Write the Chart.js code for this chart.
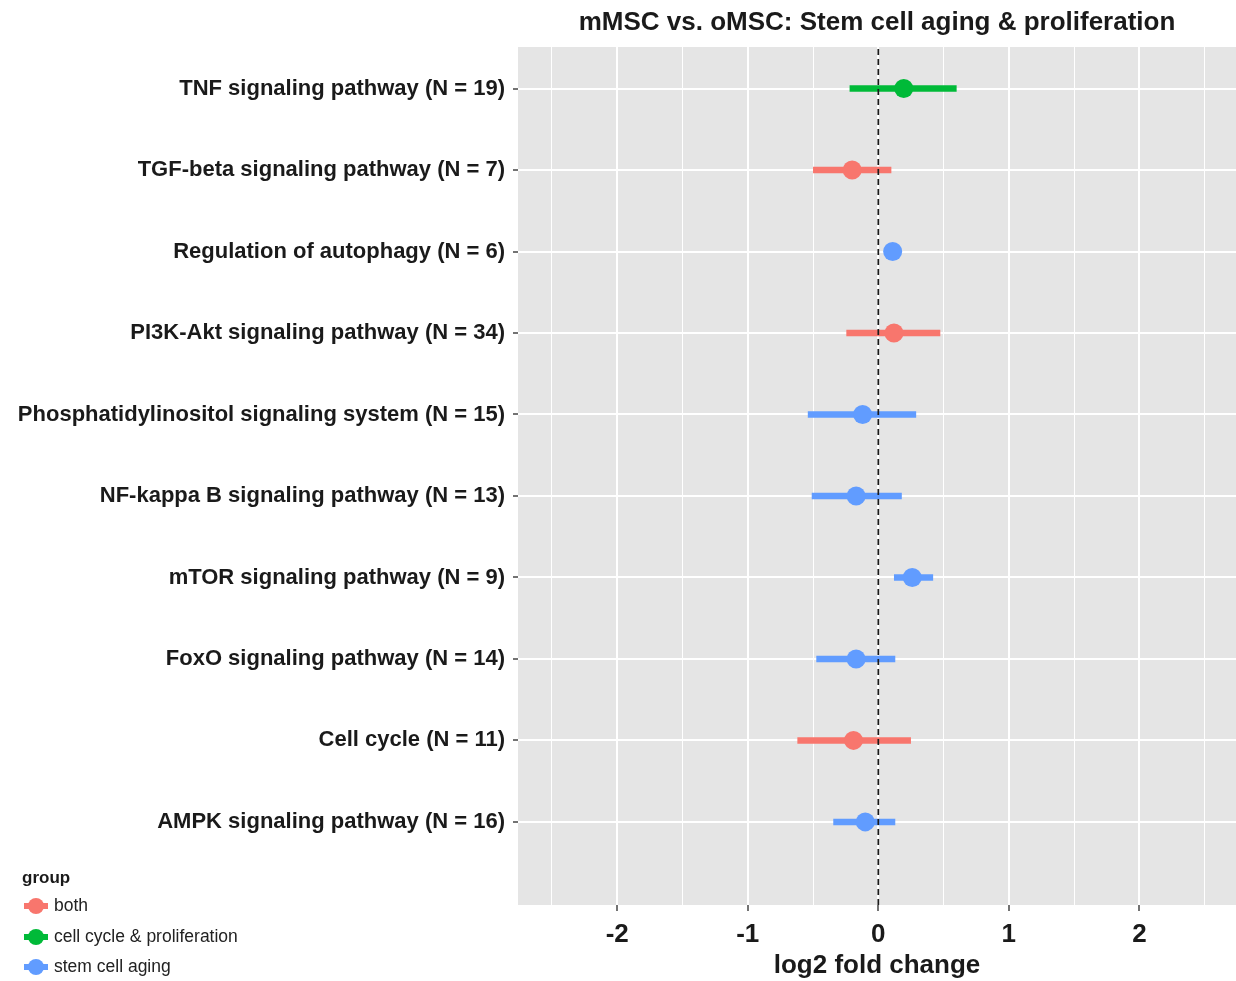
<!DOCTYPE html>
<html>
<head>
<meta charset="utf-8">
<script src="https://cdn.jsdelivr.net/npm/chart.js@4.4.1/dist/chart.umd.min.js"></script>
<style>
  body { margin: 0; background: #fff; }
  #wrap { width: 1236px; height: 981px; }
</style>
</head>
<body>
<div id="wrap"><canvas id="forest" width="1236" height="981"></canvas></div>
<script>
// Datos (de abajo hacia arriba)
const categories = [
    'AMPK signaling pathway (N = 16)',
    'Cell cycle (N = 11)',
    'FoxO signaling pathway (N = 14)',
    'mTOR signaling pathway (N = 9)',
    'NF-kappa B signaling pathway (N = 13)',
    'Phosphatidylinositol signaling system (N = 15)',
    'PI3K-Akt signaling pathway (N = 34)',
    'Regulation of autophagy (N = 6)',
    'TGF-beta signaling pathway (N = 7)',
    'TNF signaling pathway (N = 19)'
];
const groupOf = [
    'stem cell aging', 'both', 'stem cell aging', 'stem cell aging', 'stem cell aging',
    'stem cell aging', 'both', 'stem cell aging', 'both', 'cell cycle & proliferation'
];
const estimate = [-0.10, -0.19, -0.17, 0.26, -0.17, -0.12, 0.12, 0.11, -0.20, 0.195];
const lower    = [-0.345, -0.62, -0.475, 0.12, -0.51, -0.54, -0.245, 0.05, -0.50, -0.22];
const upper    = [0.13, 0.25, 0.13, 0.42, 0.18, 0.29, 0.475, 0.17, 0.10, 0.60];

const groups = ['both', 'cell cycle & proliferation', 'stem cell aging'];
const groupColors = ['#F8766D', '#00BA38', '#619CFF'];
const xTicks = [-2.5, -2, -1.5, -1, -0.5, 0, 0.5, 1, 1.5, 2, 2.5];

const X_MIN = -2.76, X_MAX = 2.74;
const Y_MIN = -0.02, Y_MAX = 10.51;

const FONT = 'Arial, "Liberation Sans", sans-serif';
const TEXT = '#1a1a1a';

function colorFor(g) {
    return groupColors[groups.indexOf(g)];
}

// Intervalos: una línea por fila
const intervalSets = categories.map((c, i) => ({
    type: 'line',
    data: [{ x: lower[i], y: i + 1 }, { x: upper[i], y: i + 1 }],
    borderColor: colorFor(groupOf[i]),
    borderWidth: 6.5,
    borderCapStyle: 'butt',
    pointRadius: 0,
    order: 3
}));

// Puntos por grupo
const pointSets = groups.map((g, k) => ({
    type: 'scatter',
    label: g,
    data: categories
        .map((c, i) => ({ x: estimate[i], y: i + 1, g: groupOf[i] }))
        .filter(p => p.g === g),
    backgroundColor: groupColors[k],
    borderWidth: 0,
    pointRadius: 9.5,
    order: 2
}));

// Línea discontinua en cero
const zeroLine = {
    type: 'line',
    data: [{ x: 0, y: Y_MIN }, { x: 0, y: Y_MAX }],
    borderColor: '#1a1a1a',
    borderWidth: 1.7,
    borderDash: [6, 4],
    pointRadius: 0,
    order: 1
};

const panelBackground = {
    id: 'panelBackground',
    beforeDraw(chart) {
        const { ctx, chartArea: a } = chart;
        ctx.save();
        ctx.fillStyle = '#E5E5E5';
        ctx.fillRect(a.left, a.top, a.right - a.left, a.bottom - a.top);
        ctx.restore();
    }
};

const titleAndLegend = {
    id: 'titleAndLegend',
    afterDraw(chart) {
        const { ctx, chartArea: a } = chart;
        ctx.save();
        // Título centrado sobre el panel
        ctx.fillStyle = TEXT;
        ctx.font = 'bold 26px ' + FONT;
        ctx.textAlign = 'center';
        ctx.textBaseline = 'middle';
        ctx.fillText('mMSC vs. oMSC: Stem cell aging & proliferation', (a.left + a.right) / 2, 23);

        // Leyenda
        ctx.textAlign = 'left';
        ctx.font = 'bold 17px ' + FONT;
        ctx.fillText('group', 22, 878);
        const rows = [906, 937, 967];
        groups.forEach((g, k) => {
            const y = rows[k];
            ctx.strokeStyle = groupColors[k];
            ctx.lineWidth = 6;
            ctx.beginPath();
            ctx.moveTo(24, y);
            ctx.lineTo(48, y);
            ctx.stroke();
            ctx.fillStyle = groupColors[k];
            ctx.beginPath();
            ctx.arc(36, y, 8, 0, Math.PI * 2);
            ctx.fill();
            ctx.fillStyle = '#222';
            ctx.font = '17.5px ' + FONT;
            ctx.fillText(g, 54, y);
        });
        ctx.restore();
    }
};

new Chart(document.getElementById('forest'), {
    data: { datasets: [zeroLine, ...pointSets, ...intervalSets] },
    options: {
        responsive: false,
        animation: false,
        events: [],
        layout: { autoPadding: false, padding: { top: 47, right: 0, bottom: 0, left: 0 } },
        plugins: {
            legend: { display: false },
            tooltip: { enabled: false }
        },
        scales: {
            x: {
                type: 'linear',
                min: X_MIN,
                max: X_MAX,
                afterBuildTicks: scale => { scale.ticks = xTicks.map(v => ({ value: v })); },
                afterFit: scale => { scale.height = 76; },
                border: { display: false },
                grid: {
                    color: '#ffffff',
                    lineWidth: c => Number.isInteger(c.tick && c.tick.value) ? 2 : 1,
                    tickColor: c => Number.isInteger(c.tick && c.tick.value) ? '#444' : 'rgba(0,0,0,0)',
                    tickLength: 6,
                    tickWidth: 1.5
                },
                ticks: {
                    autoSkip: false,
                    maxRotation: 0,
                    padding: 8,
                    color: TEXT,
                    font: { family: FONT, size: 26, weight: 'bold' },
                    callback: v => Number.isInteger(v) ? String(v) : ''
                },
                title: {
                    display: true,
                    text: 'log2 fold change',
                    color: TEXT,
                    padding: { top: 0, bottom: 0 },
                    font: { family: FONT, size: 26, weight: 'bold' }
                }
            },
            y: {
                type: 'linear',
                min: Y_MIN,
                max: Y_MAX,
                afterBuildTicks: scale => { scale.ticks = categories.map((c, i) => ({ value: i + 1 })); },
                afterFit: scale => { scale.width = 518; },
                border: { display: false },
                grid: {
                    color: '#ffffff',
                    lineWidth: 2,
                    tickColor: '#444',
                    tickLength: 5,
                    tickWidth: 1.5
                },
                ticks: {
                    autoSkip: false,
                    padding: 8,
                    color: TEXT,
                    font: { family: FONT, size: 22, weight: 'bold' },
                    callback: v => categories[Math.round(v) - 1] || ''
                }
            }
        }
    },
    plugins: [panelBackground, titleAndLegend]
});
</script>
</body>
</html>
